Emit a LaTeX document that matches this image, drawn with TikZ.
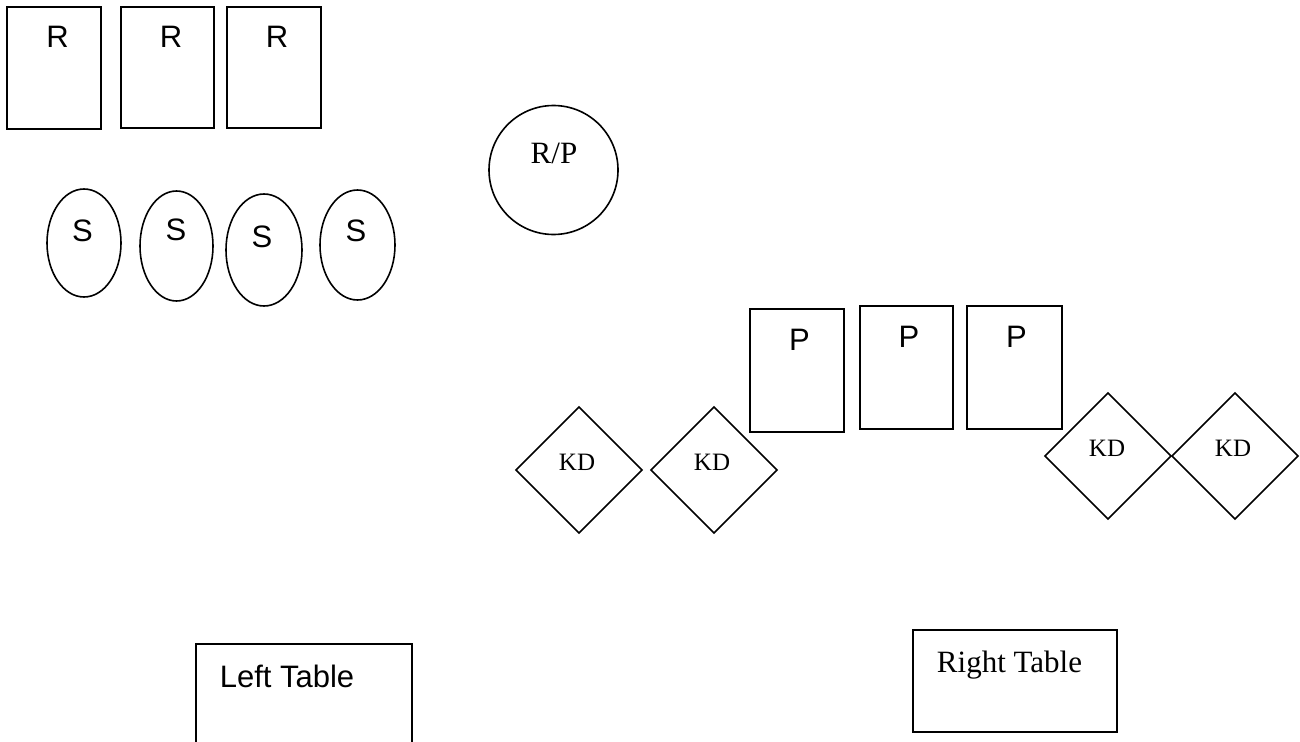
\documentclass[tikz,border=0pt]{standalone}
\usepackage{fontspec}
\setmainfont{Liberation Sans}
\newfontfamily\timesfont{Liberation Serif}

\begin{document}
\begin{tikzpicture}[x=1pt, y=-1pt, line width=1.6pt,
  sans/.style={font=\fontsize{31}{37}\selectfont, anchor=base, inner sep=0pt},
  serif/.style={font=\timesfont\fontsize{31}{37}\selectfont, anchor=base, inner sep=0pt},
  kdtext/.style={font=\timesfont\fontsize{25}{30}\selectfont, anchor=base, inner sep=0pt}]

\useasboundingbox (0,0) rectangle (1300,741);

% R seats, top left
\draw (  7,7) rectangle (101,129);
\draw (121,7) rectangle (214,128);
\draw (227,7) rectangle (321,128);
\node [sans] (r1) at ( 57.5,48) {R};
\node [sans] (r2) at (171  ,48) {R};
\node [sans] (r3) at (277  ,48) {R};

% S seats
\draw ( 84  ,243) ellipse (37pt   and 54pt);
\draw (176.5,246) ellipse (36.5pt and 55pt);
\draw (264  ,250) ellipse (38pt   and 56pt);
\draw (357.5,245) ellipse (37.5pt and 55pt);
\node [sans] (s1) at ( 82.5,241) {S};
\node [sans] (s2) at (176  ,240) {S};
\node [sans] (s3) at (262  ,247) {S};
\node [sans] (s4) at (356  ,241) {S};

% R/P
\draw (553.5,170) circle (64.5pt);
\node [serif] (rp) at (554,163) {R/P};

% P seats
\draw (750,309) rectangle ( 844,432);
\draw (860,306) rectangle ( 953,429);
\draw (967,306) rectangle (1062,429);
\node [sans] (p1) at ( 799.5,350) {P};
\node [sans] (p2) at ( 909  ,347) {P};
\node [sans] (p3) at (1016.5,347) {P};

% KD, left pair and right pair
\draw ( 579,470) ++(-63,0) -- ++(63,-63) -- ++(63,63) -- ++(-63,63) -- cycle;
\draw ( 714,470) ++(-63,0) -- ++(63,-63) -- ++(63,63) -- ++(-63,63) -- cycle;
\draw (1108,456) ++(-63,0) -- ++(63,-63) -- ++(63,63) -- ++(-63,63) -- cycle;
\draw (1235,456) ++(-63,0) -- ++(63,-63) -- ++(63,63) -- ++(-63,63) -- cycle;
\node [kdtext] (kd1) at ( 577,470) {KD};
\node [kdtext] (kd2) at ( 712,470) {KD};
\node [kdtext] (kd3) at (1107,456) {KD};
\node [kdtext] (kd4) at (1233,456) {KD};

% tables
\draw (196,644) rectangle ( 412,760);
\draw (913,630) rectangle (1117,732);
\node [sans]  (lt) at ( 287  ,687) {Left Table};
\node [serif] (rt) at (1009.5,672) {Right Table};

\end{tikzpicture}
\end{document}
